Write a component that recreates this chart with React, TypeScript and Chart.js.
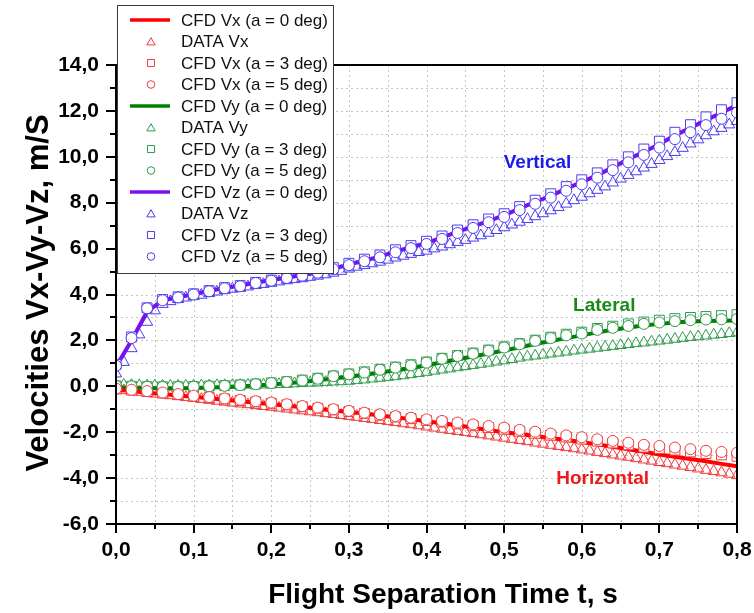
import React, { useEffect, useRef } from 'react';
import { Chart, registerables } from 'chart.js';

Chart.register(...registerables);

const FONT = '"Liberation Sans", Arial, Helvetica, sans-serif';

// ---------- time bases ----------
const tCFD = [0, 0.02, 0.04, 0.06, 0.08, 0.1, 0.12, 0.14, 0.16, 0.18, 0.2, 0.22, 0.24, 0.26, 0.28, 0.3, 0.32, 0.34, 0.36, 0.38, 0.4,
  0.42, 0.44, 0.46, 0.48, 0.5, 0.52, 0.54, 0.56, 0.58, 0.6, 0.62, 0.64, 0.66, 0.68, 0.7, 0.72, 0.74, 0.76, 0.78, 0.8];
const tData = [0, 0.01, 0.02, 0.03, 0.04, 0.05, 0.06, 0.07, 0.08, 0.09, 0.1, 0.11, 0.12, 0.13, 0.14, 0.15, 0.16, 0.17, 0.18, 0.19,
  0.2, 0.21, 0.22, 0.23, 0.24, 0.25, 0.26, 0.27, 0.28, 0.29, 0.3, 0.31, 0.32, 0.33, 0.34, 0.35, 0.36, 0.37, 0.38, 0.39,
  0.4, 0.41, 0.42, 0.43, 0.44, 0.45, 0.46, 0.47, 0.48, 0.49, 0.5, 0.51, 0.52, 0.53, 0.54, 0.55, 0.56, 0.57, 0.58, 0.59,
  0.6, 0.61, 0.62, 0.63, 0.64, 0.65, 0.66, 0.67, 0.68, 0.69, 0.7, 0.71, 0.72, 0.73, 0.74, 0.75, 0.76, 0.77, 0.78, 0.79, 0.8];

// ---------- Vx (horizontal) ----------
const vxCfd0 = [-0.15, -0.21, -0.28, -0.34, -0.40, -0.46, -0.52, -0.59, -0.65, -0.72, -0.78, -0.85, -0.91, -0.98, -1.05, -1.12,
  -1.19, -1.27, -1.35, -1.43, -1.52, -1.61, -1.70, -1.80, -1.90, -2.00, -2.08, -2.17, -2.25, -2.34, -2.43, -2.53, -2.63, -2.74,
  -2.85, -2.97, -3.07, -3.17, -3.27, -3.38, -3.48];
const vxCfd3 = [-0.12, -0.17, -0.23, -0.29, -0.36, -0.43, -0.49, -0.55, -0.62, -0.68, -0.74, -0.81, -0.89, -0.96, -1.03, -1.10,
  -1.18, -1.26, -1.34, -1.41, -1.49, -1.56, -1.64, -1.72, -1.80, -1.87, -1.96, -2.05, -2.13, -2.21, -2.30, -2.39, -2.47, -2.55,
  -2.65, -2.71, -2.78, -2.86, -2.93, -2.99, -3.05];
const vxCfd5 = [-0.10, -0.15, -0.21, -0.27, -0.34, -0.41, -0.47, -0.53, -0.59, -0.65, -0.71, -0.78, -0.86, -0.93, -1.00, -1.07,
  -1.15, -1.22, -1.30, -1.37, -1.44, -1.51, -1.58, -1.66, -1.73, -1.80, -1.90, -1.98, -2.06, -2.14, -2.22, -2.31, -2.38, -2.46,
  -2.55, -2.60, -2.67, -2.74, -2.81, -2.86, -2.90];
const vxData = [-0.15, -0.18, -0.22, -0.25, -0.29, -0.33, -0.36, -0.40, -0.44, -0.48,
  -0.52, -0.56, -0.60, -0.64, -0.68, -0.72, -0.76, -0.79, -0.83, -0.87,
  -0.90, -0.94, -0.98, -1.02, -1.06, -1.10, -1.14, -1.18, -1.22, -1.26,
  -1.30, -1.34, -1.39, -1.43, -1.48, -1.52, -1.57, -1.62, -1.66, -1.71,
  -1.76, -1.81, -1.86, -1.91, -1.96, -2.00, -2.05, -2.10, -2.15, -2.20,
  -2.25, -2.30, -2.35, -2.40, -2.46, -2.51, -2.56, -2.61, -2.66, -2.71,
  -2.76, -2.81, -2.87, -2.92, -2.98, -3.03, -3.08, -3.14, -3.20, -3.25,
  -3.31, -3.36, -3.42, -3.47, -3.53, -3.59, -3.65, -3.70, -3.76, -3.82, -3.88];

// ---------- Vy (lateral) ----------
const vyCfd0 = [-0.05, -0.06, -0.07, -0.08, -0.08, -0.07, -0.05, -0.03, 0.00, 0.04, 0.08, 0.13, 0.19, 0.26, 0.34, 0.42, 0.50,
  0.60, 0.70, 0.80, 0.92, 1.05, 1.18, 1.30, 1.43, 1.56, 1.70, 1.84, 1.97, 2.10, 2.22, 2.35, 2.46, 2.56, 2.65, 2.72, 2.78, 2.82,
  2.85, 2.86, 2.87];
const vyCfd3 = [0.02, 0.00, -0.02, -0.02, -0.02, -0.01, 0.01, 0.03, 0.06, 0.10, 0.15, 0.20, 0.27, 0.35, 0.45, 0.54, 0.63, 0.74,
  0.84, 0.94, 1.06, 1.22, 1.34, 1.45, 1.58, 1.72, 1.86, 2.01, 2.14, 2.27, 2.36, 2.52, 2.62, 2.72, 2.80, 2.88, 2.95, 3.00, 3.04,
  3.08, 3.12];
const vyCfd5 = [0.02, 0.00, -0.02, -0.03, -0.03, -0.02, 0.00, 0.02, 0.05, 0.09, 0.14, 0.19, 0.25, 0.33, 0.44, 0.52, 0.60, 0.72,
  0.81, 0.91, 1.03, 1.20, 1.32, 1.42, 1.55, 1.69, 1.83, 1.98, 2.10, 2.22, 2.30, 2.46, 2.55, 2.63, 2.72, 2.78, 2.84, 2.88, 2.91,
  2.92, 2.93];
const vyData = [0.05, 0.06, 0.05, 0.04, 0.03, 0.03, 0.02, 0.02, 0.02, 0.02,
  0.03, 0.03, 0.03, 0.04, 0.04, 0.05, 0.05, 0.06, 0.07, 0.07,
  0.08, 0.09, 0.10, 0.12, 0.13, 0.15, 0.16, 0.18, 0.20, 0.21,
  0.23, 0.26, 0.29, 0.33, 0.36, 0.40, 0.43, 0.47, 0.52, 0.57,
  0.62, 0.67, 0.72, 0.77, 0.82, 0.87, 0.92, 0.97, 1.02, 1.07,
  1.12, 1.18, 1.24, 1.29, 1.33, 1.37, 1.42, 1.46, 1.50, 1.55,
  1.59, 1.63, 1.67, 1.71, 1.75, 1.79, 1.83, 1.87, 1.90, 1.94,
  1.98, 2.02, 2.06, 2.10, 2.14, 2.17, 2.20, 2.24, 2.27, 2.31, 2.34];

// ---------- Vz (vertical) ----------
const vzCfd0 = [0.85, 2.00, 3.25, 3.74, 3.88, 4.01, 4.15, 4.28, 4.38, 4.52, 4.62, 4.74, 4.84, 4.97, 5.12, 5.30, 5.48, 5.65,
  5.88, 6.06, 6.25, 6.48, 6.74, 6.96, 7.21, 7.45, 7.75, 8.03, 8.30, 8.61, 8.90, 9.20, 9.54, 9.89, 10.22, 10.55, 10.94, 11.26,
  11.60, 11.92, 12.25];
const vzCfd3 = [0.95, 2.15, 3.42, 3.78, 3.90, 4.03, 4.17, 4.30, 4.39, 4.53, 4.63, 4.76, 4.87, 5.01, 5.17, 5.36, 5.54, 5.72,
  5.95, 6.13, 6.32, 6.55, 6.81, 7.04, 7.29, 7.52, 7.83, 8.11, 8.39, 8.70, 9.00, 9.30, 9.65, 10.00, 10.34, 10.68, 11.07, 11.40,
  11.74, 12.05, 12.36];
const vzCfd5 = [0.90, 2.10, 3.40, 3.75, 3.87, 4.00, 4.14, 4.27, 4.36, 4.50, 4.60, 4.72, 4.82, 4.95, 5.10, 5.28, 5.45, 5.62,
  5.84, 6.02, 6.20, 6.42, 6.68, 6.90, 7.15, 7.38, 7.68, 7.95, 8.22, 8.52, 8.80, 9.09, 9.42, 9.76, 10.08, 10.40, 10.77, 11.07,
  11.38, 11.66, 11.93];
const vzData = [0.55, 1.05, 1.65, 2.25, 2.80, 3.30, 3.58, 3.70, 3.79, 3.86,
  3.92, 3.98, 4.05, 4.12, 4.18, 4.24, 4.28, 4.34, 4.40, 4.45,
  4.50, 4.56, 4.61, 4.66, 4.70, 4.76, 4.81, 4.87, 4.94, 5.02,
  5.12, 5.20, 5.27, 5.35, 5.42, 5.51, 5.60, 5.68, 5.76, 5.84,
  5.90, 6.00, 6.08, 6.18, 6.28, 6.37, 6.47, 6.57, 6.68, 6.80,
  6.92, 7.04, 7.16, 7.28, 7.40, 7.53, 7.66, 7.80, 7.95, 8.10,
  8.25, 8.40, 8.55, 8.70, 8.87, 9.04, 9.20, 9.36, 9.52, 9.68,
  9.85, 10.02, 10.20, 10.38, 10.57, 10.75, 10.93, 11.10, 11.25, 11.40, 11.55];

// ---------- axes ----------
const xMinorTicks = [0.05, 0.15, 0.25, 0.35, 0.45, 0.55, 0.65, 0.75];
const yMinorTicks = [-5, -3, -1, 1, 3, 5, 7, 9, 11, 13];
const xGridLines = [0.05, 0.1, 0.15, 0.2, 0.25, 0.3, 0.35, 0.4, 0.45, 0.5, 0.55, 0.6, 0.65, 0.7, 0.75];
const yGridLines = [-5, -4, -3, -2, -1, 0, 1, 2, 3, 4, 5, 6, 7, 8, 9, 10, 11, 12, 13];
const xTitle = 'Flight Separation Time t, s';
const yTitle = 'Velocities Vx-Vy-Vz, m/S';

// ---------- curve annotations ----------
const noteTexts = ['Vertical', 'Lateral', 'Horizontal'];
const noteX = [0.543, 0.629, 0.627];
const noteY = [9.72, 3.51, -4.05];
const noteColors = ['#1a1aee', '#178a17', '#f01818'];

// ---------- legend ----------
const legendLabels = [
  'CFD Vx (a = 0 deg)', 'DATA Vx', 'CFD Vx (a = 3 deg)', 'CFD Vx (a = 5 deg)',
  'CFD Vy (a = 0 deg)', 'DATA Vy', 'CFD Vy (a = 3 deg)', 'CFD Vy (a = 5 deg)',
  'CFD Vz (a = 0 deg)', 'DATA Vz', 'CFD Vz (a = 3 deg)', 'CFD Vz (a = 5 deg)',
];

const lineColors = ['#ff0000', '#008000', '#7a10ee'];
const markColors = ['#f03c3c', '#2f9a4c', '#4c3cf0'];

const fmt = (v: any) => Number(v).toFixed(1).replace('.', ',');
const pts = (xs: number[], ys: number[]) => xs.map((x, i) => ({ x, y: ys[i] }));

function marker(ctx: CanvasRenderingContext2D, style: string, x: number, y: number, r: number, color: string, fill: string | null) {
  ctx.beginPath();
  if (style === 'triangle') {
    for (let k = 0; k < 3; k++) {
      const a = (k * 2 * Math.PI) / 3;
      const px = x + Math.sin(a) * r;
      const py = y - Math.cos(a) * r;
      if (k === 0) ctx.moveTo(px, py); else ctx.lineTo(px, py);
    }
    ctx.closePath();
  } else if (style === 'rect') {
    const s = r * Math.SQRT1_2;
    ctx.rect(x - s, y - s, 2 * s, 2 * s);
  } else {
    ctx.arc(x, y, r, 0, Math.PI * 2);
  }
  if (fill) { ctx.fillStyle = fill; ctx.fill(); }
  ctx.strokeStyle = color;
  ctx.lineWidth = 1;
  ctx.stroke();
}

const decorPlugin = {
  id: 'decor',
  beforeDatasetsDraw(chart: any) {
    const { ctx, chartArea: a, scales } = chart;
    const xs = scales.x, ys = scales.y;
    ctx.save();
    ctx.strokeStyle = '#c4c4c4';
    ctx.lineWidth = 1;
    ctx.setLineDash([2, 3]);
    ctx.beginPath();
    for (const v of xGridLines) {
      const px = Math.round(xs.getPixelForValue(v)) + 0.5;
      ctx.moveTo(px, a.top); ctx.lineTo(px, a.bottom);
    }
    for (const v of yGridLines) {
      const py = Math.round(ys.getPixelForValue(v)) + 0.5;
      ctx.moveTo(a.left, py); ctx.lineTo(a.right, py);
    }
    ctx.stroke();
    ctx.restore();
  },
  afterDatasetsDraw(chart: any) {
    const { ctx, chartArea: a, scales } = chart;
    const xs = scales.x, ys = scales.y;
    ctx.save();
    ctx.strokeStyle = '#000';
    ctx.lineWidth = 2;
    ctx.strokeRect(a.left, a.top, a.right - a.left, a.bottom - a.top);
    ctx.beginPath();
    for (const t of xs.ticks) {
      const px = Math.round(xs.getPixelForValue(t.value));
      ctx.moveTo(px, a.bottom); ctx.lineTo(px, a.bottom + 9);
    }
    for (const v of xMinorTicks) {
      const px = Math.round(xs.getPixelForValue(v));
      ctx.moveTo(px, a.bottom); ctx.lineTo(px, a.bottom + 5);
    }
    for (const t of ys.ticks) {
      const py = Math.round(ys.getPixelForValue(t.value));
      ctx.moveTo(a.left - 10, py); ctx.lineTo(a.left, py);
    }
    for (const v of yMinorTicks) {
      const py = Math.round(ys.getPixelForValue(v));
      ctx.moveTo(a.left - 6, py); ctx.lineTo(a.left, py);
    }
    ctx.stroke();

    // curve annotations
    ctx.font = `bold 19px ${FONT}`;
    ctx.textAlign = 'center';
    ctx.textBaseline = 'middle';
    noteTexts.forEach((s, i) => {
      ctx.fillStyle = noteColors[i];
      ctx.fillText(s, xs.getPixelForValue(noteX[i]), ys.getPixelForValue(noteY[i]));
    });
    ctx.restore();
  },
  afterDraw(chart: any) {
    const { ctx } = chart;
    ctx.save();
    // axis titles
    ctx.fillStyle = '#000';
    ctx.font = `bold 28px ${FONT}`;
    ctx.textAlign = 'center';
    ctx.textBaseline = 'alphabetic';
    ctx.fillText(xTitle, 443, 603);
    ctx.save();
    ctx.translate(48, 293);
    ctx.rotate(-Math.PI / 2);
    ctx.font = `bold 31px ${FONT}`;
    ctx.fillText(yTitle, 0, 0);
    ctx.restore();

    // legend
    const bx = 117.5, by = 5.5, bw = 216, bh = 268;
    ctx.fillStyle = '#fff';
    ctx.fillRect(bx, by, bw, bh);
    ctx.strokeStyle = '#3a3a3a';
    ctx.lineWidth = 1;
    ctx.strokeRect(bx, by, bw, bh);
    ctx.font = `17px ${FONT}`;
    ctx.textAlign = 'left';
    ctx.textBaseline = 'middle';
    legendLabels.forEach((label, i) => {
      const g = Math.floor(i / 4);
      const kind = i % 4;
      const cy = 20 + i * 21.5;
      if (kind === 0) {
        ctx.strokeStyle = lineColors[g];
        ctx.lineWidth = 3.5;
        ctx.beginPath();
        ctx.moveTo(130, cy); ctx.lineTo(170, cy);
        ctx.stroke();
      } else if (kind === 1) {
        marker(ctx, 'triangle', 151, cy + 1, 4.8, markColors[g], null);
      } else if (kind === 2) {
        marker(ctx, 'rect', 151, cy, 5, markColors[g], '#fff');
      } else {
        marker(ctx, 'circle', 151, cy, 3.8, markColors[g], '#fff');
      }
      ctx.fillStyle = '#111';
      ctx.fillText(label, 181, cy + 1);
    });
    ctx.restore();
  },
};

export default function App() {
  const ref = useRef<HTMLCanvasElement | null>(null);
  useEffect(() => {
    if (!ref.current) return;
    const groups = [
      { line: vxCfd0, data: vxData, a3: vxCfd3, a5: vxCfd5 },
      { line: vyCfd0, data: vyData, a3: vyCfd3, a5: vyCfd5 },
      { line: vzCfd0, data: vzData, a3: vzCfd3, a5: vzCfd5 },
    ];
    const datasets: any[] = [];
    groups.forEach((g, i) => {
      datasets.push({
        label: legendLabels[i * 4], data: pts(tCFD, g.line), showLine: true, borderColor: lineColors[i],
        borderWidth: 4, pointRadius: 0, tension: 0, order: 3, clip: 0,
      });
      datasets.push({
        label: legendLabels[i * 4 + 1], data: pts(tData, g.data), showLine: false, pointStyle: 'triangle',
        pointRadius: 6.5, borderColor: markColors[i], pointBorderColor: markColors[i], pointBackgroundColor: 'rgba(0,0,0,0)',
        pointBorderWidth: 1, order: 4, clip: 0,
      });
      datasets.push({
        label: legendLabels[i * 4 + 2], data: pts(tCFD, g.a3), showLine: false, pointStyle: 'rect',
        pointRadius: 7, borderColor: markColors[i], pointBorderColor: markColors[i], pointBackgroundColor: '#fff',
        pointBorderWidth: 1, order: 2, clip: 0,
      });
      datasets.push({
        label: legendLabels[i * 4 + 3], data: pts(tCFD, g.a5), showLine: false, pointStyle: 'circle',
        pointRadius: 5.5, borderColor: markColors[i], pointBorderColor: markColors[i], pointBackgroundColor: '#fff',
        pointBorderWidth: 1, order: 1, clip: 0,
      });
    });

    const tickFont = { family: FONT, size: 21, weight: 'bold' as const };
    const chart = new Chart(ref.current, {
      type: 'scatter',
      data: { datasets },
      plugins: [decorPlugin],
      options: {
        animation: false,
        responsive: true,
        maintainAspectRatio: false,
        events: [],
        layout: { padding: { left: 0, top: 65, right: 17, bottom: 0 } },
        plugins: { legend: { display: false }, tooltip: { enabled: false } },
        scales: {
          x: {
            type: 'linear', min: 0, max: 0.8, position: 'bottom',
            afterFit: (s: any) => { s.height = 89; s.paddingLeft = 0; s.paddingRight = 0; },
            grid: { display: false, drawTicks: false },
            border: { display: false },
            ticks: { stepSize: 0.1, padding: 14, color: '#000', font: tickFont, callback: fmt, maxRotation: 0, autoSkip: false },
          },
          y: {
            type: 'linear', min: -6, max: 14,
            afterFit: (s: any) => { s.width = 116; s.paddingTop = 0; s.paddingBottom = 0; },
            grid: { display: false, drawTicks: false },
            border: { display: false },
            ticks: { stepSize: 2, padding: 17, color: '#000', font: tickFont, callback: fmt, autoSkip: false },
          },
        },
      } as any,
    });
    return () => chart.destroy();
  }, []);

  return (
    <div style={{ position: 'fixed', left: 0, top: 0, width: 754, height: 613, background: '#fff' }}>
      <canvas ref={ref} />
    </div>
  );
}
